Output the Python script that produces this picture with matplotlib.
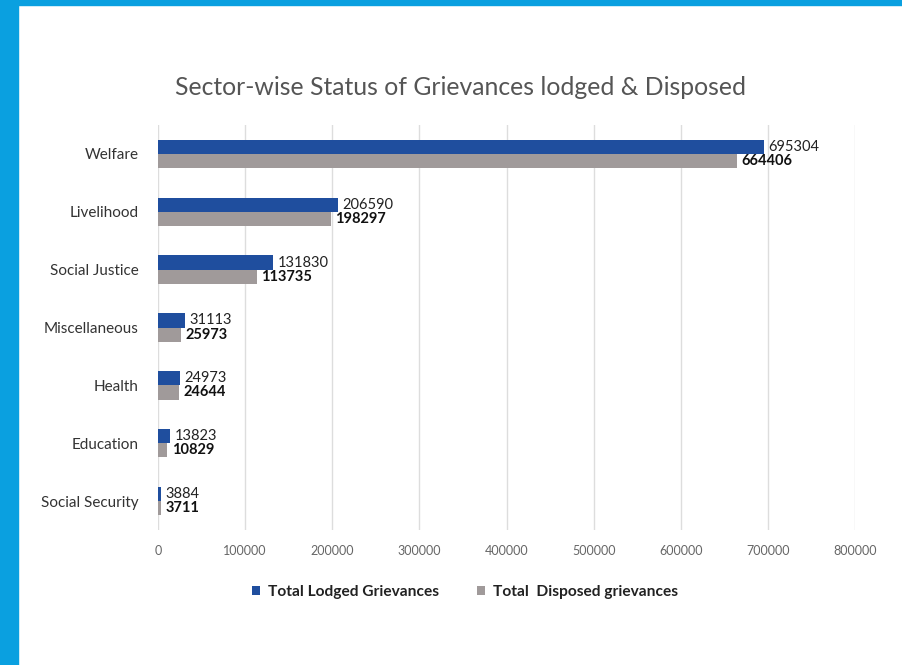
import numpy as np
import matplotlib.pyplot as plt
from matplotlib.patches import Rectangle

plt.rcParams['font.family'] = ['Lato', 'DejaVu Sans']

# data
sectors = ["Welfare", "Livelihood", "Social Justice", "Miscellaneous",
           "Health", "Education", "Social Security"]
lodged = [695304, 206590, 131830, 31113, 24973, 13823, 3884]
disposed = [664406, 198297, 113735, 25973, 24644, 10829, 3711]

blue = "#1f4e9e"
grey = "#a09a9a"

fig = plt.figure(figsize=(9.03, 6.65), dpi=100)
ax = fig.add_axes([0.175, 0.203, 0.772, 0.609])

y = np.arange(len(sectors))
h = 0.245
ax.barh(y - h/2, lodged, height=h, color=blue, label="Total Lodged Grievances")
ax.barh(y + h/2, disposed, height=h, color=grey, label="Total  Disposed grievances")

for i in range(len(sectors)):
    ax.text(lodged[i] + 5000, y[i] - h/2, str(lodged[i]), va="center", ha="left",
            fontsize=10.5, color="#222222")
    ax.text(disposed[i] + 5000, y[i] + h/2, str(disposed[i]), va="center", ha="left",
            fontsize=10.5, color="#111111", fontweight="bold")

ax.set_xlim(0, 800000)
ax.set_ylim(len(sectors) - 0.5, -0.5)
ax.set_xticks(np.arange(0, 800001, 100000))
ax.set_yticks(y)
ax.set_yticklabels(sectors, fontsize=11, color="#333333")
ax.tick_params(axis="x", labelsize=9, labelcolor="#666666", length=0, pad=11)
ax.tick_params(axis="y", length=0, pad=14)
ax.grid(axis="x", color="#dddddd", linewidth=1)
ax.set_axisbelow(True)
for s in ax.spines.values():
    s.set_visible(False)

fig.text(0.510, 0.869, "Sector-wise Status of Grievances lodged & Disposed",
         ha="center", va="center", fontsize=17.8, color="#555555")

leg = fig.legend(loc="center", bbox_to_anchor=(0.515, 0.11), ncol=2, frameon=False,
                 handlelength=0.5, handleheight=0.5, columnspacing=2.5, handletextpad=0.5,
                 prop={"size": 11.2, "weight": "bold"})
for t in leg.get_texts():
    t.set_color("#222222")

# blue frame around the slide
fig.patches.append(Rectangle((0, 0), 18/903, 1, transform=fig.transFigure,
                             color="#0aa0e0", zorder=0))
fig.patches.append(Rectangle((0, 1 - 5/665), 1, 5/665, transform=fig.transFigure,
                             color="#0aa0e0", zorder=0))

fig.savefig("out.png", dpi=100)
